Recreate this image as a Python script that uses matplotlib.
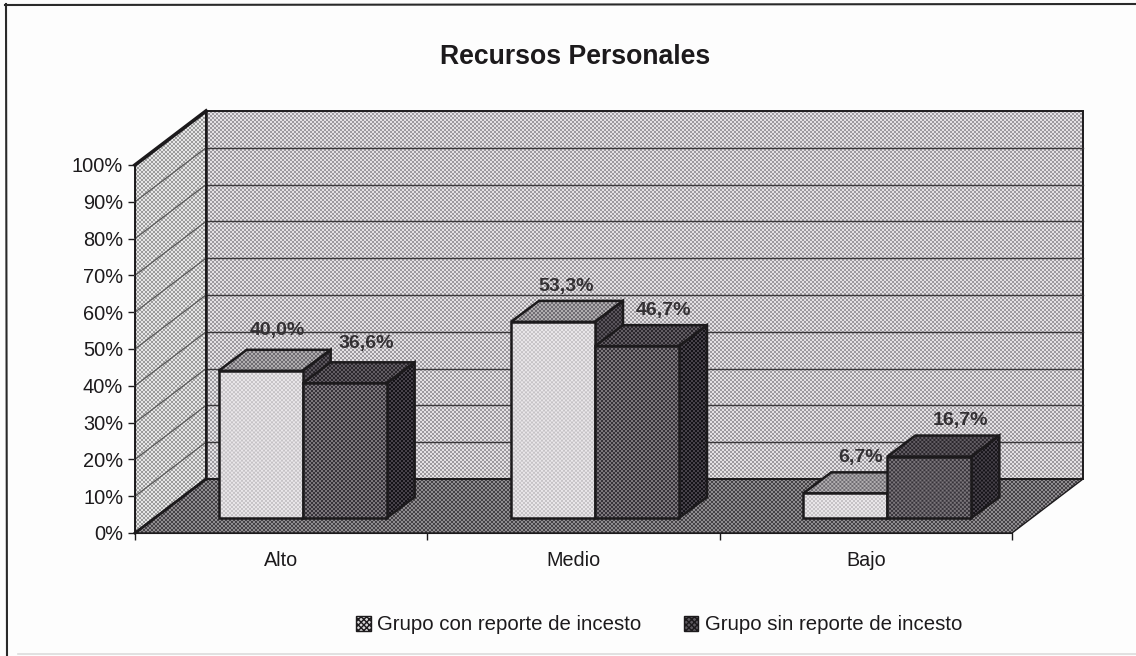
import numpy as np
import matplotlib
matplotlib.use("Agg")
import matplotlib.pyplot as plt
from matplotlib.lines import Line2D
from matplotlib.patches import Patch, Polygon

categories = ["Alto", "Medio", "Bajo"]
con_reporte = [40.0, 53.3, 6.7]
sin_reporte = [36.6, 46.7, 16.7]
con_labels = ["40,0%", "53,3%", "6,7%"]
sin_labels = ["36,6%", "46,7%", "16,7%"]
y_ticks = [0, 10, 20, 30, 40, 50, 60, 70, 80, 90, 100]
series_names = ["Grupo con reporte de incesto", "Grupo sin reporte de incesto"]
title = "Recursos Personales"

# label nudges in pixels, excel placed these a bit unevenly
con_nudge = [(3, 19), (-1, 14), (1, 15)]
sin_nudge = [(8, 19), (13, 15), (17, 15)]

plt.rcParams["font.family"] = ["Liberation Sans", "DejaVu Sans"]
INK = "#1c1a1c"

fig = plt.figure(figsize=(11.36, 6.56), dpi=100, facecolor="#fdfdfd")
ax = fig.add_axes([135 / 1136, (656 - 533) / 656, 877 / 1136, 368 / 656])
ax.set_xlim(0, 3)
ax.set_ylim(0, 100)
ax.patch.set_visible(False)

# 3d look, in data units
px_x = 877 / 3
px_y = 3.68
depth_x = 71 / px_x
depth_y = 54 / px_y
bar_w = 84 / px_x
bar_dx = 28 / px_x
bar_dy = 21 / px_y
bar_base = 15 / px_y
bar_shift = 21.5 / px_x


def stipple(verts, c1, c2, z, lw=1.4):
    # scanned dither pattern, clipped to the face
    verts = np.array(verts)
    x0, y0 = verts.min(axis=0)
    x1, y1 = verts.max(axis=0)
    w = int(round((x1 - x0) * px_x))
    h = int(round((y1 - y0) * px_y))
    jj, ii = np.indices((max(h, 1), max(w, 1)))
    mask = ((ii // 2 + jj // 2) % 2).astype(bool)
    img = np.zeros(mask.shape + (3,))
    img[mask] = matplotlib.colors.to_rgb(c1)
    img[~mask] = matplotlib.colors.to_rgb(c2)
    im = ax.imshow(img, extent=(x0, x1, y0, y1), origin="lower", aspect="auto",
                   interpolation="bilinear", zorder=z)
    clip = Polygon(verts, closed=True, transform=ax.transData)
    im.set_clip_path(clip)
    im.set_clip_box(fig.bbox)
    ax.add_patch(Polygon(verts, closed=True, fill=False, edgecolor=INK, linewidth=lw,
                         zorder=z + 0.1, clip_on=False))


def bar3d(left, value, front, top, side, z):
    right = left + bar_w
    low = bar_base
    high = bar_base + value
    stipple([(right, low), (right + bar_dx, low + bar_dy),
             (right + bar_dx, high + bar_dy), (right, high)], *side, z, lw=1.8)
    stipple([(left, high), (right, high), (right + bar_dx, high + bar_dy),
             (left + bar_dx, high + bar_dy)], *top, z, lw=1.8)
    stipple([(left, low), (right, low), (right, high), (left, high)], *front, z + 0.2, lw=1.8)


# walls and floor
stipple([(depth_x, depth_y), (3 + depth_x, depth_y), (3 + depth_x, 100 + depth_y),
         (depth_x, 100 + depth_y)], "#9d9a9f", "#e4e1e4", 1)
stipple([(0, 0), (depth_x, depth_y), (depth_x, 100 + depth_y), (0, 100)],
        "#9c9c9c", "#e6e6e6", 1)
stipple([(0, 0), (3, 0), (3 + depth_x, depth_y), (depth_x, depth_y)],
        "#454246", "#8f8c8f", 1, lw=1.0)

for t in y_ticks[1:-1]:
    ax.plot([depth_x, 3 + depth_x], [t + depth_y, t + depth_y], color="#3a383a",
            linewidth=1.0, zorder=2, clip_on=False)
    ax.plot([0, depth_x], [t, t + depth_y], color="#5a5a5a", linewidth=0.9, zorder=2,
            clip_on=False)
# heavy edges of the left wall
ax.plot([0, depth_x], [100, 100 + depth_y], color=INK, linewidth=2.6, zorder=2.5, clip_on=False)
ax.plot([0, depth_x], [0, depth_y], color=INK, linewidth=2.0, zorder=2.5, clip_on=False)
ax.plot([depth_x, depth_x], [depth_y, 100 + depth_y], color=INK, linewidth=1.8, zorder=2.5,
        clip_on=False)

for i, cat in enumerate(categories):
    mid = i + 0.5 + bar_shift
    bar3d(mid - bar_w, con_reporte[i], ("#c6c3c6", "#eae7ea"), ("#6f6c72", "#b0adaf"),
          ("#2a262c", "#5c575e"), 3 + i)
    bar3d(mid, sin_reporte[i], ("#37333a", "#7c777c"), ("#2b272d", "#625d63"),
          ("#151318", "#47424a"), 3.5 + i)
    ax.annotate(con_labels[i], (mid - bar_w / 2 + bar_dx / 2, bar_base + con_reporte[i] + bar_dy),
                xytext=con_nudge[i], textcoords="offset pixels", ha="center", va="center",
                fontsize=14, fontweight="bold", color="#333033", zorder=10)
    ax.annotate(sin_labels[i], (mid + bar_w / 2 + bar_dx / 2, bar_base + sin_reporte[i] + bar_dy),
                xytext=sin_nudge[i], textcoords="offset pixels", ha="center", va="center",
                fontsize=14, fontweight="bold", color="#333033", zorder=10)

ax.set_yticks(y_ticks)
ax.set_yticklabels([f"{t}%" for t in y_ticks], fontsize=14.4, color=INK)
ax.set_xticks([0, 1, 2, 3])
ax.set_xticklabels([])
ax.set_xticks([0.5, 1.5, 2.5], minor=True)
ax.set_xticklabels(categories, minor=True, fontsize=14.2, color=INK)
ax.tick_params(axis="x", which="minor", length=0, pad=13)
ax.tick_params(axis="both", which="major", length=5, width=1, color=INK)
ax.tick_params(axis="y", pad=3.5)
for name in ["top", "right"]:
    ax.spines[name].set_visible(False)
for name in ["left", "bottom"]:
    ax.spines[name].set_color(INK)
    ax.spines[name].set_zorder(9)

fig.text(575 / 1136, 1 - 57.5 / 656, title, ha="center", va="center", fontsize=19.2,
         fontweight="bold", color=INK)

handles = [
    Patch(facecolor="#d8d6d8", edgecolor=INK, hatch="xxxxxx", linewidth=1, label=series_names[0]),
    Patch(facecolor="#5c585e", edgecolor=INK, hatch="xxxxxx", linewidth=1, label=series_names[1]),
]
fig.legend(handles=handles, loc="center", bbox_to_anchor=(659 / 1136, 1 - 625 / 656), ncol=2,
           frameon=False, fontsize=14.65, handlelength=0.72, handleheight=0.72,
           handletextpad=0.3, columnspacing=2.1, labelcolor=INK)

# scanned frame: only top and left really show, bottom is faint
W, H = 1136, 656
for xs, ys, col, lw in [
    ([5, W], [5, 4], "#2a2a2a", 1.5),
    ([6, 7], [4, H], "#2a2a2a", 1.5),
    ([18, W], [654, 654], "#dcdcdc", 1.2),
]:
    fig.add_artist(Line2D([x / W for x in xs], [1 - y / H for y in ys], color=col, linewidth=lw,
                          transform=fig.transFigure))

ax.set_xlim(0, 3)
ax.set_ylim(0, 100)
fig.savefig("out.png", dpi=100, facecolor=fig.get_facecolor())
